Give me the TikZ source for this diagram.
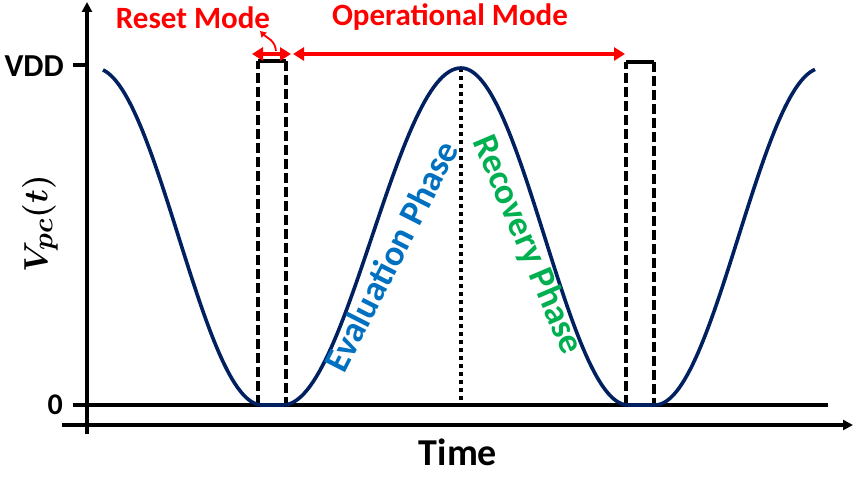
\documentclass[tikz,border=0pt]{standalone}
\usepackage{fontspec}
\usepackage{bm}
\setmainfont{Carlito}
\usetikzlibrary{arrows.meta}
\definecolor{navy}{RGB}{0,32,96}
\definecolor{evalblue}{RGB}{0,112,192}
\definecolor{recgreen}{RGB}{0,176,80}
\definecolor{modered}{RGB}{255,0,0}
\begin{document}
\begin{tikzpicture}[x=1pt,y=-1pt,
  axisline/.style={line width=3.6pt,black},
  dashbox/.style={line width=3.6pt,black,dash pattern=on 10pt off 4pt},
  dotline/.style={line width=3.6pt,black,dash pattern=on 4pt off 4pt},
  curve/.style={line width=3.6pt,navy,line join=round},
  redarrow/.style={line width=4pt,modered,{Triangle[length=11pt,width=13pt]}-{Triangle[length=11pt,width=13pt]}},
  lbl/.style={font=\bfseries,inner sep=0pt}
]
\useasboundingbox (0,0) rectangle (858,481);
% axes
\coordinate (yb) at (87,434);
\coordinate (yt) at (87,2);
\coordinate (xl) at (62,425);
\coordinate (xr) at (853,425);
\draw[axisline,-{Triangle[length=10pt,width=10pt]}] (yb) -- (yt);
\draw[axisline,-{Triangle[length=10pt,width=10pt]}] (xl) -- (xr);
% zero line and VDD tick
\coordinate (zl) at (73,405);
\coordinate (zr) at (828,405);
\draw[axisline] (zl) -- (zr);
\coordinate (vl) at (73,65);
\coordinate (vr) at (87,65);
\draw[axisline] (vl) -- (vr);
\node[lbl,font=\bfseries\fontsize{32}{32}\selectfont,anchor=east] (vdd) at (64,66) {VDD};
\node[lbl,font=\bfseries\fontsize{30}{30}\selectfont,anchor=east] (zero) at (63,405) {0};
\node[lbl,rotate=90,scale=1.35] (vpc) at (40,224) {\Huge$\bm{V_{pc}(t)}$};
\node[lbl,font=\bfseries\fontsize{38}{38}\selectfont] (time) at (458,452) {Time};
% dashed boxes
\coordinate (a1) at (258,405); \coordinate (a2) at (258,61);
\coordinate (a3) at (286,61); \coordinate (a4) at (286,405);
\draw[dashbox] (a1) -- (a2);
\draw[axisline] (a2) -- (a3);
\draw[dashbox] (a3) -- (a4);
\coordinate (b1) at (626,405); \coordinate (b2) at (626,62);
\coordinate (b3) at (654,62); \coordinate (b4) at (654,405);
\draw[dashbox] (b1) -- (b2);
\draw[axisline] (b2) -- (b3);
\draw[dashbox] (b3) -- (b4);
% dotted centre line
\coordinate (c1) at (461,68); \coordinate (c2) at (461,405);
\draw[dotline] (c1) -- (c2);
% curve
\draw[curve] plot[domain=103:262,samples=60] (\x,{405-337*(1+cos((\x-95)/167*180))/2})
  -- plot[domain=283:461,samples=60] (\x,{405-337*(1-cos((\x-283)/178*180))/2})
  -- plot[domain=461:628,samples=60] (\x,{405-337*(1+cos((\x-461)/167*180))/2})
  -- plot[domain=655:815,samples=60] (\x,{405-337*(1-cos((\x-655)/167*180))/2});
% red arrows
\coordinate (r1) at (252,54); \coordinate (r2) at (291,54);
\coordinate (o1) at (293,54); \coordinate (o2) at (625,54);
\draw[redarrow] (r1) -- (r2);
\draw[redarrow] (o1) -- (o2);
\node[lbl,font=\bfseries\fontsize{31}{31}\selectfont,text=modered] (reset) at (193,18) {Reset Mode};
\node[lbl,font=\bfseries\fontsize{31}{31}\selectfont,text=modered] (oper) at (450,17) {Operational Mode};
\coordinate (cs) at (276,51);
\coordinate (ce) at (260,31);
\draw[line width=1.8pt,modered,-{Triangle[length=6pt,width=7pt]}] (cs) .. controls (275,40) and (267,38) .. (ce);
% phase labels
\node[lbl,font=\bfseries\fontsize{36}{36}\selectfont,text=evalblue,rotate=63] (eval) at (391,256) {Evaluation Phase};
\node[lbl,font=\bfseries\fontsize{36}{36}\selectfont,text=recgreen,rotate=-67] (rec) at (527,245) {Recovery Phase};
\end{tikzpicture}
\end{document}
